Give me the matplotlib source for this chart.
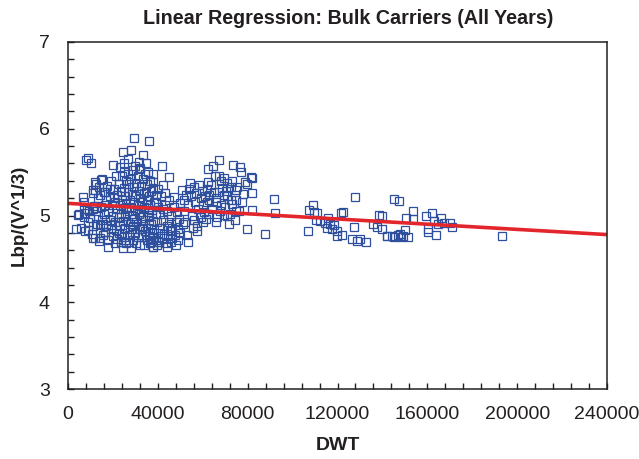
import matplotlib
matplotlib.use("Agg")
import matplotlib.pyplot as plt
from matplotlib.ticker import MultipleLocator
import numpy as np

plt.rcParams['font.family'] = ['Liberation Sans', 'DejaVu Sans']

# (DWT in thousands, Lbp / V^(1/3)) grouped by size class
small_handy = [
    (3.5, 4.84), (4.5, 5.01), (5.0, 5.02), (5.8, 4.86), (6.5, 5.21), (7.1, 5.15),
    (7.1, 5.07), (7.4, 5.03), (7.5, 4.82), (8.0, 5.64), (8.5, 5.07), (8.9, 5.66),
    (8.9, 4.83), (9.0, 4.93), (9.5, 5.05), (10.1, 5.61), (10.0, 4.97), (10.5, 4.79),
    (11.0, 5.26), (11.1, 5.08), (11.1, 5.29), (11.1, 4.74), (11.5, 5.11), (11.9, 5.39),
    (12.0, 4.74), (12.0, 5.29), (12.5, 5.36), (12.5, 5.05), (13.0, 4.90), (13.5, 5.20),
    (13.5, 5.00), (14.0, 4.71), (14.1, 4.89), (14.1, 4.74), (14.1, 5.24), (14.0, 5.33),
    (11.0, 4.88), (7.0, 4.98),
]

handysize = [
    (14.5, 5.10), (14.7, 5.41), (15.0, 4.95), (15.0, 5.42), (15.5, 4.78), (15.8, 4.90),
    (16.0, 5.27), (16.0, 5.02), (16.3, 5.27), (16.3, 4.81), (16.5, 4.81), (16.5, 5.12),
    (17.0, 5.18), (17.0, 4.88), (17.5, 5.34), (17.8, 4.64), (18.0, 5.05), (18.0, 4.72),
    (18.5, 5.22), (18.5, 4.95), (18.8, 5.30), (19.0, 5.40), (19.0, 4.85), (19.2, 4.89),
    (19.5, 5.12), (20.0, 5.58), (20.0, 5.00), (20.0, 4.76), (20.3, 5.20), (20.5, 5.30),
    (20.8, 4.68), (21.0, 5.15), (21.0, 4.92), (21.5, 5.45), (21.5, 4.83), (22.0, 5.07),
    (22.0, 5.24), (22.0, 4.73),
]

handymax_a = [
    (22.5, 4.98), (22.5, 5.36), (22.8, 4.80), (23.0, 5.56), (23.0, 4.88), (23.0, 5.12),
    (23.5, 4.70), (23.5, 5.28), (23.5, 5.02), (23.6, 4.70), (24.0, 5.45), (24.0, 4.80),
    (24.0, 5.18), (24.5, 5.73), (24.5, 4.62), (24.5, 4.94), (24.5, 5.08), (24.8, 5.60),
    (25.0, 5.32), (25.0, 4.75), (25.0, 5.50), (25.5, 5.00), (25.5, 5.22), (25.5, 4.86),
    (25.8, 5.10), (26.0, 5.40), (26.0, 4.68), (26.0, 5.14), (26.5, 4.92), (26.5, 5.27),
    (26.5, 5.48), (26.8, 5.65), (27.0, 5.05), (27.0, 4.78), (27.0, 5.36), (27.2, 4.70),
    (27.5, 5.18), (27.5, 4.90), (27.9, 5.76), (28.0, 4.63), (28.0, 5.10), (28.0, 5.42),
    (28.5, 4.84), (28.5, 5.25), (28.5, 5.00), (28.8, 4.88), (29.0, 5.52), (29.0, 4.72),
    (29.0, 5.15), (29.4, 5.89), (29.5, 4.96), (29.5, 5.33), (30.0, 5.06), (30.0, 4.80),
    (30.0, 5.57), (30.0, 5.22),
]

handymax_b = [
    (30.5, 4.68), (30.5, 5.38), (30.5, 4.92), (31.0, 5.12), (31.0, 5.46), (31.0, 4.75),
    (31.5, 5.02), (31.5, 5.28), (31.5, 4.85), (31.7, 5.54), (31.8, 5.62), (32.0, 5.20),
    (32.0, 4.66), (32.0, 5.55), (32.5, 4.95), (32.5, 5.34), (32.5, 5.08), (33.0, 4.78),
    (33.0, 4.85), (33.0, 5.16), (33.3, 5.70), (33.5, 4.88), (33.5, 5.42), (33.5, 5.00),
    (34.0, 4.66), (34.0, 5.26), (34.0, 5.10), (34.5, 4.82), (34.5, 5.48), (34.5, 4.95),
    (34.7, 5.27), (34.8, 5.60), (35.0, 5.18), (35.0, 4.72), (35.0, 5.36), (35.5, 5.04),
    (35.5, 4.86), (35.5, 5.50), (35.9, 5.86), (36.0, 5.22), (36.0, 4.76), (36.0, 4.98),
    (36.2, 5.01), (36.5, 5.12), (36.5, 4.68), (36.5, 5.40), (37.0, 4.90), (37.0, 5.28),
    (37.0, 4.70), (37.5, 5.06), (37.5, 4.80), (37.7, 5.39), (37.7, 4.74), (37.7, 4.64),
    (37.8, 5.48), (38.0, 5.32), (38.0, 4.94), (38.0, 4.64), (38.5, 5.16), (38.5, 4.84),
    (39.0, 5.02), (39.0, 4.72), (39.0, 5.24), (39.2, 5.16), (39.5, 4.92), (39.5, 4.66),
    (40.0, 5.10), (40.0, 4.80), (40.0, 5.30),
]

supramax = [
    (40.5, 4.70), (40.7, 4.70), (41.0, 5.02), (41.0, 4.86), (41.5, 5.22), (41.7, 5.57),
    (42.0, 4.74), (42.2, 5.35), (42.5, 4.95), (42.5, 5.08), (42.9, 4.79), (43.0, 5.12),
    (43.3, 5.26), (43.5, 4.68), (44.0, 4.88), (44.0, 5.05), (44.0, 4.64), (44.5, 4.76),
    (45.0, 5.18), (45.1, 5.44), (45.1, 4.93), (45.5, 4.82), (45.9, 4.82), (46.0, 4.70),
    (46.0, 5.00), (46.5, 4.86), (46.5, 4.74), (47.0, 5.10), (47.3, 5.21), (47.5, 4.78),
    (48.0, 4.92), (48.0, 4.66), (48.5, 5.04), (48.9, 4.85), (48.9, 4.72), (49.5, 4.96),
    (50.0, 5.14), (50.0, 4.80), (50.8, 5.29), (51.0, 4.90), (51.5, 5.05), (51.5, 5.18),
    (52.2, 4.93), (52.5, 5.24), (53.0, 4.78), (53.3, 4.70), (53.5, 5.12), (54.0, 5.30),
    (54.5, 5.38), (54.8, 5.23), (55.0, 5.00), (55.5, 4.86), (56.2, 5.33), (56.2, 4.95),
    (56.5, 5.16), (57.0, 5.26), (57.5, 4.88), (57.5, 4.82), (58.0, 5.08), (58.5, 5.35),
    (59.0, 5.20), (59.0, 4.98), (59.5, 5.28), (60.0, 5.12), (60.0, 4.92), (60.5, 5.04),
    (61.0, 5.22), (61.5, 4.96), (62.0, 5.15), (62.0, 5.30), (62.5, 5.02), (63.0, 5.18),
]

panamax = [
    (62.3, 5.54), (62.3, 5.39), (62.8, 5.24), (63.5, 5.35), (64.0, 5.08), (64.7, 5.57),
    (65.0, 5.27), (65.5, 5.45), (65.8, 5.16), (65.8, 4.93), (66.0, 5.20), (66.5, 4.98),
    (67.2, 5.64), (67.2, 5.45), (67.2, 5.27), (67.5, 5.05), (68.0, 5.12), (68.0, 5.40),
    (68.5, 5.32), (69.5, 5.43), (69.5, 5.24), (69.5, 5.01), (70.0, 5.10), (70.5, 5.28),
    (70.9, 5.37), (70.9, 4.99), (71.0, 5.22), (71.7, 4.90), (72.0, 5.02), (72.5, 5.33),
    (72.5, 5.18), (73.0, 5.40), (73.2, 5.13), (73.6, 5.58), (74.2, 4.95), (74.7, 5.29),
    (74.7, 5.05), (75.0, 5.18), (75.4, 5.33), (76.0, 5.05), (76.6, 5.56), (77.2, 5.50),
    (77.3, 5.15), (78.0, 5.25), (78.7, 5.39), (79.6, 4.85), (79.8, 5.36), (81.4, 5.44),
    (81.8, 5.43), (81.8, 5.26), (82.1, 5.06), (87.6, 4.79), (91.7, 5.19), (92.3, 5.03),
]

capesize_small = [
    (106.7, 4.82), (107.3, 5.06), (109.2, 5.12), (109.7, 5.04), (110.4, 4.95), (111.0, 5.03),
    (112.2, 4.94), (114.4, 4.91), (115.2, 4.86), (115.9, 4.97), (116.7, 4.90), (117.4, 4.85),
    (118.4, 4.89), (119.6, 4.82), (119.6, 4.76), (121.4, 5.03), (121.9, 4.78), (122.3, 5.04),
    (126.5, 4.73), (127.4, 4.87), (127.9, 5.21), (128.8, 4.71), (130.0, 4.73), (132.7, 4.69),
    (135.7, 4.90), (137.7, 4.87), (138.6, 5.01), (139.7, 4.99), (140.0, 4.84),
]

capesize = [
    (141.9, 4.76), (142.2, 4.76), (144.4, 4.76), (145.2, 4.75), (145.3, 5.19), (147.1, 4.78),
    (147.4, 5.17), (147.8, 4.79), (148.2, 4.75), (149.3, 4.76), (150.1, 4.83), (150.5, 4.97),
    (151.3, 4.75), (153.6, 5.05), (153.6, 4.96), (159.5, 4.99), (160.2, 4.85), (160.2, 4.81),
    (162.1, 5.03), (163.1, 4.94), (164.0, 4.78), (164.8, 4.90), (165.9, 4.97), (167.4, 4.91),
    (170.0, 4.91), (171.1, 4.87), (193.1, 4.76),
]

# fitted line: ratio = intercept + slope * DWT
intercept = 5.14
slope = -1.5e-6

groups = [small_handy, handysize, handymax_a, handymax_b, supramax, panamax,
          capesize_small, capesize]
points = np.array([p for g in groups for p in g])
dwt = points[:, 0] * 1000
ratio = points[:, 1]

fig = plt.figure(figsize=(6.39, 4.59), dpi=100)
ax = fig.add_axes([68 / 639, 1 - 389 / 459, 539 / 639, 347 / 459])

ax.plot(dwt, ratio, linestyle='none', marker='s', markersize=5.8,
        markerfacecolor='none', markeredgecolor='#2E4F9E', markeredgewidth=0.9)

x_line = np.array([0, 240000])
ax.plot(x_line, intercept + slope * x_line, color='#E3262B', linewidth=2.6,
        solid_capstyle='butt')

ax.set_xlim(0, 240000)
ax.set_ylim(3, 7)
ax.xaxis.set_major_locator(MultipleLocator(40000))
ax.xaxis.set_minor_locator(MultipleLocator(8000))
ax.yaxis.set_major_locator(MultipleLocator(1))
ax.yaxis.set_minor_locator(MultipleLocator(0.2))
ax.tick_params(which='both', direction='in', length=4, width=1, colors='#231F20',
               top=False, right=False)
ax.tick_params(axis='x', which='major', pad=12, labelsize=14)
ax.tick_params(axis='y', which='major', pad=13, labelsize=14)
for s in ax.spines.values():
    s.set_linewidth(1.1)
    s.set_color('#231F20')

ax.set_xlabel('DWT', fontsize=14, fontweight='bold', color='#231F20', labelpad=10)
ax.set_ylabel('Lbp/(V^1/3)', fontsize=13.5, fontweight='bold', color='#231F20', labelpad=8)
fig.text(348 / 639, 1 - 19 / 459, 'Linear Regression: Bulk Carriers (All Years)',
         ha='center', va='center', fontsize=14.2, fontweight='bold', color='#231F20')

fig.savefig('out.png', dpi=100)
